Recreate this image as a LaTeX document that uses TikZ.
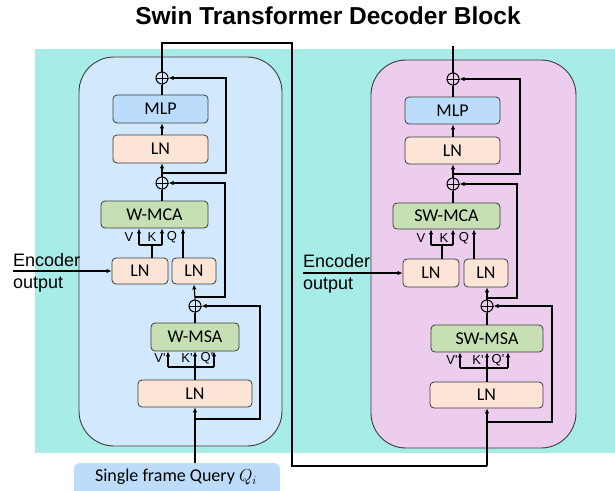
\documentclass[tikz,border=0pt]{standalone}
\usepackage{fontspec}
\setmainfont{Carlito}
\newfontfamily\arialf{Liberation Sans}
\usetikzlibrary{arrows.meta,calc}
\definecolor{bgcyan}{RGB}{168,236,232}
\definecolor{leftbg}{RGB}{210,232,252}
\definecolor{rightbg}{RGB}{237,205,238}
\definecolor{mlpc}{RGB}{187,221,251}
\definecolor{lnc}{RGB}{252,229,215}
\definecolor{attc}{RGB}{198,224,180}
\definecolor{qc}{RGB}{189,220,249}
\definecolor{edge}{RGB}{60,60,60}
\tikzset{
  blk/.style={draw=edge, line width=0.8pt, rounded corners=4pt, inner sep=0pt,
    font=\fontsize{18}{20}\selectfont},
  mlpbox/.style={blk, fill=mlpc},
  lnbox/.style={blk, fill=lnc},
  attbox/.style={blk, fill=attc},
  wire/.style={line width=1.1pt, black},
  arr/.style={wire, -{Latex[length=5pt,width=4.5pt]}},
  plusnode/.style={circle, draw=black, line width=1pt, minimum size=12pt, inner sep=0pt},
  lbl/.style={font=\arialf\fontsize{13}{14}\selectfont, inner sep=0pt},
  txt/.style={font=\arialf\fontsize{18}{20}\selectfont, inner sep=0pt, anchor=base west},
  bigbox/.style={draw=edge, line width=0.9pt, rounded corners=35pt}
}
\newcommand{\pluscross}[1]{\draw[line width=1pt] (#1.north) -- (#1.south) (#1.west) -- (#1.east);}
\begin{document}
\begin{tikzpicture}[x=1pt,y=-1pt]
\useasboundingbox (0,0) rectangle (615,490);
\clip (0,0) rectangle (615,490);
% background
\fill[bgcyan] (35,49) rectangle (615,453);
\draw[bigbox, fill=leftbg] (79,57) rectangle (282,446);
\draw[bigbox, fill=rightbg] (371,60) rectangle (576,448);
% title
\node[font=\arialf\bfseries\fontsize{24.5}{26}\selectfont, inner sep=0pt, anchor=base] (title) at (328,24) {Swin Transformer Decoder Block};
% query box
\node[fill=qc, rounded corners=6pt, minimum width=206pt, minimum height=40pt, inner sep=0pt] (qbox) at (177,483) {};
\node[font=\fontsize{18}{20}\selectfont, inner sep=0pt] (qtext) at (176,477) {Single frame Query $Q_i$};

% ---------------- left column ----------------
\node[mlpbox, minimum width=95pt, minimum height=28pt] (mlpL) at (160.5,109) {MLP};
\node[lnbox, minimum width=95pt, minimum height=28pt] (lnTL) at (160.5,149) {LN};
\node[attbox, minimum width=107pt, minimum height=27pt] (mcaL) at (154.5,214.5) {W-MCA};
\node[lnbox, minimum width=56pt, minimum height=26pt] (lnaL) at (140,271) {LN};
\node[lnbox, minimum width=44pt, minimum height=26pt] (lnbL) at (194,271) {LN};
\node[attbox, minimum width=88pt, minimum height=28pt] (msaL) at (195,337) {W-MSA};
\node[lnbox, minimum width=114pt, minimum height=27pt] (lnBL) at (195,393.5) {LN};
\node[plusnode] (p1L) at (162,78) {}; \pluscross{p1L}
\node[plusnode] (p2L) at (162,183) {}; \pluscross{p2L}
\node[plusnode] (p3L) at (195,306) {}; \pluscross{p3L}

% labels left
\node[lbl] (vL) at (129,237) {V};
\node[lbl] (kL) at (152,237) {K};
\node[lbl] (qL) at (172,237) {Q};
\node[lbl] (vpLl) at (160,358) {V\textquotesingle};
\node[lbl] (kpLl) at (187,358) {K\textquotesingle};
\node[lbl] (qpLl) at (207,358) {Q\textquotesingle};

% encoder text left
\node[txt] (encL) at (13,266) {Encoder};
\node[txt] (outL) at (13,288) {output};
\coordinate (encLs) at (13,271);

% coordinates left
\coordinate (j3L) at (195,419);
\coordinate (c3L) at (260,419);
\coordinate (j2L) at (195,297);
\coordinate (c2L) at (225,297);
\coordinate (j1L) at (162,173);
\coordinate (c1L) at (226,173);
\coordinate (s2L) at (195,367);
\coordinate (vpL) at (168,367);
\coordinate (qpL) at (214,367);
\coordinate (s1L) at (152,245);
\coordinate (vaL) at (139,245);
\coordinate (kaL) at (162,245);
\coordinate (qaL) at (183,258);

% connectors left
\draw[arr] (lnBL.south |- qbox.north) -- (lnBL.south);
\draw[arr] (j3L) -- (c3L) |- (p3L.east);
\draw[wire] (lnBL.north) -- (s2L);
\draw[wire] (vpL) -- (qpL);
\draw[arr] (vpL) -- (vpL |- msaL.south);
\draw[arr] (s2L) -- (s2L |- msaL.south);
\draw[arr] (qpL) -- (qpL |- msaL.south);
\draw[wire] (msaL.north) -- (p3L.south);
\draw[arr] (p3L.north) -- (lnbL.south);
\draw[arr] (j2L) -- (c2L) |- (p2L.east);
\draw[arr] (encLs) -- (lnaL.west);
\draw[wire] (s1L |- lnaL.north) -- (s1L);
\draw[wire] (vaL) -- (kaL);
\draw[arr] (vaL) -- (vaL |- mcaL.south);
\draw[arr] (kaL) -- (kaL |- mcaL.south);
\draw[arr] (qaL) -- (qaL |- mcaL.south);
\draw[wire] (p2L.south |- mcaL.north) -- (p2L.south);
\draw[arr] (p2L.north) -- (p2L.north |- lnTL.south);
\draw[arr] (j1L) -- (c1L) |- (p1L.east);
\draw[arr] (p1L.north |- lnTL.north) -- (p1L.north |- mlpL.south);
\draw[wire] (p1L.south |- mlpL.north) -- (p1L.south);

% ---------------- right column ----------------
\node[mlpbox, minimum width=95pt, minimum height=27pt] (mlpR) at (452.5,110.5) {MLP};
\node[lnbox, minimum width=95pt, minimum height=27pt] (lnTR) at (452.5,150.5) {LN};
\node[attbox, minimum width=107pt, minimum height=26pt] (mcaR) at (446.5,216) {SW-MCA};
\node[lnbox, minimum width=56pt, minimum height=28pt] (lnaR) at (431,273) {LN};
\node[lnbox, minimum width=44pt, minimum height=28pt] (lnbR) at (486,273) {LN};
\node[attbox, minimum width=112pt, minimum height=27pt] (msaR) at (487,338.5) {SW-MSA};
\node[lnbox, minimum width=113pt, minimum height=26pt] (lnBR) at (486.5,395) {LN};
\node[plusnode] (p1R) at (453,79) {}; \pluscross{p1R}
\node[plusnode] (p2R) at (453,184) {}; \pluscross{p2R}
\node[plusnode] (p3R) at (487,306) {}; \pluscross{p3R}

% labels right
\node[lbl] (vR) at (421,238) {V};
\node[lbl] (kR) at (444,238) {K};
\node[lbl] (qR) at (464,238) {Q};
\node[lbl] (vpRl) at (452,360) {V\textquotesingle};
\node[lbl] (kpRl) at (478,360) {K\textquotesingle};
\node[lbl] (qpRl) at (498,360) {Q\textquotesingle};

% encoder text right
\node[txt] (encR) at (303,267) {Encoder};
\node[txt] (outR) at (303,289) {output};
\coordinate (encRs) at (303,273);

% coordinates right
\coordinate (j3R) at (487,422);
\coordinate (c3R) at (552,422);
\coordinate (j2R) at (487,298);
\coordinate (c2R) at (517,298);
\coordinate (j1R) at (453,174);
\coordinate (c1R) at (520,174);
\coordinate (s2R) at (487,368);
\coordinate (vpR) at (460,368);
\coordinate (qpR) at (508,368);
\coordinate (s1R) at (442,245);
\coordinate (vaR) at (431,245);
\coordinate (kaR) at (453,245);
\coordinate (qaR) at (474,259);
\coordinate (outTop) at (453,46);

% link from left output to right input
\coordinate (lk1) at (162,43);
\coordinate (lk2) at (292,43);
\coordinate (lk3) at (292,466);
\coordinate (lk4) at (487,466);
\draw[wire] (p1L.north) -- (lk1) -- (lk2) -- (lk3) -- (lk4);
\draw[arr] (lk4) -- (lk4 |- lnBR.south);

% connectors right
\draw[arr] (j3R) -- (c3R) |- (p3R.east);
\draw[wire] (s2R |- lnBR.north) -- (s2R);
\draw[wire] (vpR) -- (qpR);
\draw[arr] (vpR) -- (vpR |- msaR.south);
\draw[arr] (s2R) -- (s2R |- msaR.south);
\draw[arr] (qpR) -- (qpR |- msaR.south);
\draw[wire] (p3R.south |- msaR.north) -- (p3R.south);
\draw[arr] (p3R.north) -- (p3R.north |- lnbR.south);
\draw[arr] (j2R) -- (c2R) |- (p2R.east);
\draw[arr] (encRs) -- (lnaR.west);
\draw[wire] (s1R |- lnaR.north) -- (s1R);
\draw[wire] (vaR) -- (kaR);
\draw[arr] (vaR) -- (vaR |- mcaR.south);
\draw[arr] (kaR) -- (kaR |- mcaR.south);
\draw[arr] (qaR) -- (qaR |- mcaR.south);
\draw[wire] (p2R.south |- mcaR.north) -- (p2R.south);
\draw[arr] (p2R.north) -- (p2R.north |- lnTR.south);
\draw[arr] (j1R) -- (c1R) |- (p1R.east);
\draw[arr] (p1R.north |- lnTR.north) -- (p1R.north |- mlpR.south);
\draw[wire] (p1R.south |- mlpR.north) -- (p1R.south);
\draw[wire] (p1R.north) -- (outTop);
\end{tikzpicture}
\end{document}
